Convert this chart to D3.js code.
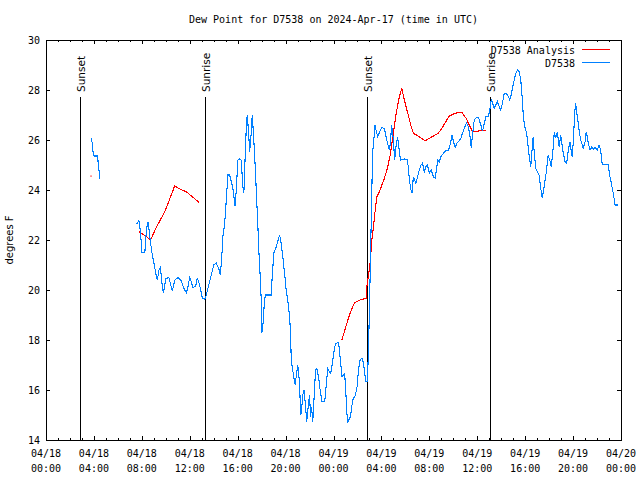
<!DOCTYPE html>
<html><head><meta charset="utf-8">
<script src="https://cdn.jsdelivr.net/npm/d3@7"></script>
<style>body{margin:0;background:#fff}svg{display:block}</style>
</head><body>
<script>
// minutes since 2024-04-18 00:00 UTC
const startTime = "2024-04-18T00:00:00Z";
const endTime = "2024-04-20T00:00:00Z";
const titleText = "Dew Point for D7538 on 2024-Apr-17 (time in UTC)";
const yLabel = "degrees F";
const yTicks = [14, 16, 18, 20, 22, 24, 26, 28, 30];
const seriesNames = ["D7538 Analysis", "D7538"];

const blueMinutes = [225,231,236,241,256,260,265,270,275,
453,465,470,475,481,495,500,506,511,516,523,531,541,553,558,566,573,581,588,600,616,625,633,645,661,678,690,703,711,720,728,736,750,758,766,775,783,795,803,815,828,840,853,865,873,880,886,895,903,911,920,928,936,941,947,953,961,970,978,986,991,998,1003,1008,1015,1020,1028,1033,1040,1048,1053,1060,1066,1073,1078,1081,1086,1091,1098,1128,1133,1141,1153,1163,1170,1178,1186,1195,1203,1211,1220,1225,1228,1233,1241,1248,1253,1261,1266,1271,1276,1281,1286,1293,1300,1306,1313,1320,1325,1330,1336,1343,1350,1356,1365,1373,1383,1396,1403,1411,1420,1426,1433,1441,1450,1466,1476,1483,1490,1496,1503,1510,1516,1525,1536,1550,1558,1565,1573,1583,1590,1595,1601,1610,1616,1621,1626,1631,1636,1641,1647,1653,1661,1670,1681,1695,1703,1711,1720,1725,1731,1740,1746,1753,1761,1766,1775,1795,1808,1815,1820,1828,1833,1840,1846,1853,1861,1870,1878,1886,1895,1903,1911,1920,1930,1940,1950,1956,1963,1970,1978,1991,2003,2016,2026,2033,2041,2050,2056,2066,2078,2086,2095,2106,2116,2125,2130,2136,2145,2156,2166,2178,2186,2195,2203,2216,2223,2230,2236,2245,2253,2261,2270,2278,2286,2295,2306,2316,2323,2330,2336,2345,2353,2361,2370,2378,2386,2391,2398,2405,2411,2416,2423,2428,2433,2440,2445,2453,2461,2470,2478,2486,2491,2500,2506,2515,2523,2531,2540,2546,2553,2561,2570,2578,2583,2591,2600,2608,2616,2625,2630,2636,2641,2648,2653,2658,2665,2670,2678,2686,2691,2700,2706,2711,2716,2725,2733,2741,2750,2761,2770,2778,2786,2816,2823,2830,2836,2843,2850,2863];
const blueValues = [26.1,25.9,25.5,25.36,25.36,25.2,24.8,24.44,null,
22.63,22.77,22.53,22.13,21.5,21.5,22.13,22.53,22.73,22.4,21.93,21.47,21.07,20.53,20.4,20.8,20.9,20.27,19.87,20.47,20.49,20.2,19.97,20.4,20.49,20.37,20.07,19.89,20.13,20.51,20.33,20.09,20.16,20.49,20.29,20.0,19.67,19.63,19.8,20.2,20.6,21.0,21.07,20.87,20.6,21.27,22.13,22.67,23.6,24.6,24.6,24.33,24.07,23.73,23.35,24.0,25.2,25.25,25.2,24.13,23.87,25.47,26.47,27.0,26.27,25.53,26.27,27.0,26.13,24.93,24.0,22.8,21.6,20.53,19.6,18.27,18.53,19.2,19.8,19.8,20.53,21.47,21.73,22.0,22.2,21.87,21.33,20.67,20.0,19.6,18.93,18.27,17.33,16.93,16.53,16.2,16.53,17.0,16.67,16.0,15.0,15.27,15.8,16.0,15.33,14.73,15.33,15.8,14.93,15.33,14.73,15.73,16.8,16.87,16.53,16.0,15.53,15.53,16.13,16.87,16.73,16.67,17.0,17.47,17.87,17.89,17.07,16.53,16.6,16.67,15.73,14.67,14.8,14.93,15.6,15.8,16.13,16.8,17.2,17.27,17.07,16.8,16.33,16.33,17.87,19.6,21.6,23.6,25.5,25.87,26.6,26.4,26.13,26.3,26.49,26.47,26.13,25.87,25.6,25.87,26.6,26.0,25.2,25.73,26.13,25.8,25.2,25.24,25.23,24.93,24.4,24.0,23.87,24.53,24.4,24.27,24.53,24.8,25.0,25.07,24.73,24.93,25.0,24.67,24.8,24.53,24.47,24.87,25.2,25.13,25.33,25.47,25.57,25.6,25.87,26.2,25.93,25.67,25.87,25.93,26.07,26.27,26.47,26.69,26.53,26.07,25.67,26.2,26.8,26.91,26.91,26.6,26.35,26.65,26.93,26.96,27.2,27.6,27.5,27.27,27.4,27.53,27.33,27.2,27.47,27.87,27.87,27.73,27.6,27.8,28.07,28.4,28.67,28.8,28.73,28.4,27.6,26.93,26.53,26.33,26.07,25.6,25.2,24.93,25.47,26.13,25.53,24.87,24.73,24.6,24.07,23.67,23.93,24.4,24.73,25.4,25.2,24.93,25.67,26.33,26.07,26.33,25.73,26.2,25.9,25.47,25.13,25.07,25.6,25.93,25.6,25.33,25.93,27.07,27.47,27.13,26.73,26.4,26.0,25.8,25.67,25.93,26.33,26.13,25.87,25.6,25.71,25.63,25.71,25.6,25.8,25.6,25.03,25.0,24.6,24.33,24.07,23.8,23.4,23.4];

const redMinutes = [225,230,
465,479,504,524,554,595,645,670,703,736,766,770,
1482,1512,1529,1545,1574,1604,1607,1617,1624,1632,1640,1649,1657,1667,1679,1695,1712,1724,1737,1754,1770,1782,1795,1812,1829,1840,1870,1900,1929,1965,1987,2020,2050,2082,2104,2120,2137,2157,2170,2204];
const redValues = [24.56,null,
22.33,22.27,22.13,22.0,22.53,23.13,24.17,24.04,23.93,23.71,23.51,null,
18.0,18.8,19.2,19.49,19.6,19.67,20.13,20.67,21.13,22.0,22.53,23.2,23.73,23.87,24.13,24.47,24.93,25.4,26.13,27.07,27.73,28.07,27.6,27.07,26.53,26.27,26.13,25.97,26.11,26.27,26.53,26.96,27.07,27.11,26.87,26.6,26.33,26.33,26.37,26.4];

const sunMinutes = [170, 795, 1610, 2225];
const sunLabels = ["Sunset", "Sunrise", "Sunset", "Sunrise"];

const W = 640, H = 480;
const mono = "'DejaVu Sans Mono', 'Liberation Mono', monospace";
const sans = "'DejaVu Sans', 'Liberation Sans', sans-serif";
const svg = d3.select("body").append("svg").attr("width", W).attr("height", H);

const t0 = new Date(startTime), t1 = new Date(endTime);
const toDate = m => new Date(t0.getTime() + m * 60000);
const x = d3.scaleUtc().domain([t0, t1]).range([46, 621]);
const y = d3.scaleLinear().domain([14, 30]).range([440, 40]);
const L = 46, R = 621, T = 40, B = 440;

// title
svg.append("text").attr("x", (L + R) / 2).attr("y", 23).attr("text-anchor", "middle")
  .style("font-family", mono).style("font-size", "10px").text(titleText);

// y label
svg.append("text").attr("transform", "translate(13,240) rotate(-90)").attr("text-anchor", "middle")
  .style("font-family", sans).style("font-size", "10px").text(yLabel);

const g = svg.append("g").attr("shape-rendering", "crispEdges");

// ticks
const hourTicks = d3.utcHour.every(1).range(t0, d3.utcHour.offset(t1, 1));
const majorTicks = d3.utcHour.every(4).range(t0, d3.utcHour.offset(t1, 1));
hourTicks.forEach(d => {
  const major = d.getUTCHours() % 4 === 0;
  const len = major ? 4 : 2;
  const xp = Math.round(x(d)) + 0.5;
  g.append("line").attr("x1", xp).attr("x2", xp).attr("y1", B).attr("y2", B - len).attr("stroke", "#000");
  g.append("line").attr("x1", xp).attr("x2", xp).attr("y1", T).attr("y2", T + len).attr("stroke", "#000");
});
majorTicks.forEach(d => {
  const xp = x(d);
  const t = svg.append("text").attr("text-anchor", "middle").style("font-family", mono).style("font-size", "10px");
  t.append("tspan").attr("x", xp).attr("y", 457).text(d3.utcFormat("%m/%d")(d));
  t.append("tspan").attr("x", xp).attr("y", 472).text(d3.utcFormat("%H:%M")(d));
});
yTicks.forEach(v => {
  const yp = Math.round(y(v)) + 0.5;
  g.append("line").attr("x1", L).attr("x2", L + 4).attr("y1", yp).attr("y2", yp).attr("stroke", "#000");
  g.append("line").attr("x1", R).attr("x2", R - 4).attr("y1", yp).attr("y2", yp).attr("stroke", "#000");
  svg.append("text").attr("x", 40).attr("y", y(v) + 4).attr("text-anchor", "end")
    .style("font-family", mono).style("font-size", "10px").text(v);
});

// sunrise / sunset
sunMinutes.forEach((m, i) => {
  const xp = Math.round(x(toDate(m))) + 0.5;
  g.append("line").attr("x1", xp).attr("x2", xp).attr("y1", 97).attr("y2", B).attr("stroke", "#000");
  svg.append("text").attr("transform", `translate(${xp + 4},92) rotate(-90)`)
    .style("font-family", sans).style("font-size", "10.5px").text(sunLabels[i]);
});

// series
const line = d3.line().defined(d => d[1] !== null).x(d => x(toDate(d[0]))).y(d => y(d[1]));
const redData = redMinutes.map((m, i) => [m, redValues[i]]);
const blueData = blueMinutes.map((m, i) => [m, blueValues[i]]);
svg.append("path").datum(redData).attr("d", line).attr("fill", "none").attr("stroke", "#ff0000")
  .attr("stroke-width", 1.1).attr("shape-rendering", "crispEdges");
svg.append("path").datum(blueData).attr("d", line).attr("fill", "none").attr("stroke", "#0080ff")
  .attr("stroke-width", 1.1).attr("shape-rendering", "crispEdges");
// isolated points
[[redData, "#ff0000"], [blueData, "#0080ff"]].forEach(([data, c]) => {
  data.forEach((d, i) => {
    if (d[1] === null) return;
    const prev = data[i - 1], next = data[i + 1];
    if ((!prev || prev[1] === null) && (!next || next[1] === null)) {
      svg.append("rect").attr("x", x(toDate(d[0])) - 0.5).attr("y", y(d[1]) - 0.5)
        .attr("width", 1.2).attr("height", 1.2).attr("fill", c);
    }
  });
});

// border
g.append("rect").attr("x", L + 0.5).attr("y", T + 0.5).attr("width", R - L - 0.5).attr("height", B - T - 0.5)
  .attr("fill", "none").attr("stroke", "#000");

// legend
const legColors = ["#ff0000", "#0080ff"];
seriesNames.forEach((n, i) => {
  const yy = 50 + i * 13;
  svg.append("text").attr("x", 575).attr("y", yy + 3.5).attr("text-anchor", "end")
    .style("font-family", mono).style("font-size", "10px").text(n);
  g.append("line").attr("x1", 582).attr("x2", 610).attr("y1", yy - 0.5).attr("y2", yy - 0.5).attr("stroke", legColors[i]);
});
</script>
</body></html>
